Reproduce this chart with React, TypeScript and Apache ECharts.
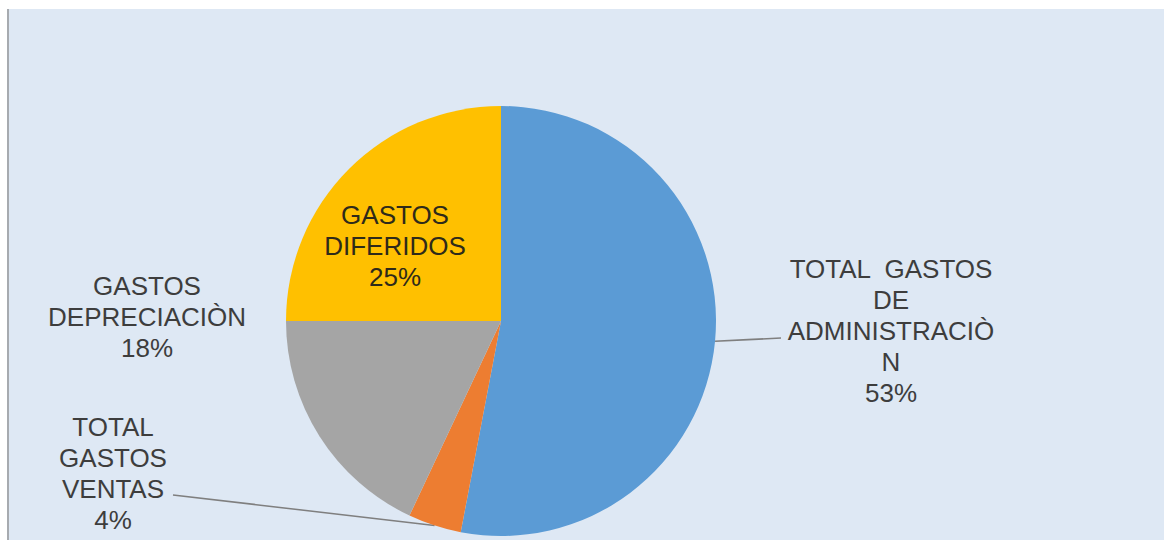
import React, { useEffect, useRef } from "react";
import * as echarts from "echarts";

// ---- data ----
const categories = [
  "TOTAL GASTOS DE ADMINISTRACIÒN",
  "TOTAL GASTOS VENTAS",
  "GASTOS DEPRECIACIÒN",
  "GASTOS DIFERIDOS",
];
const labelTexts = [
  ["TOTAL  GASTOS", "DE", "ADMINISTRACIÒ", "N"],
  ["TOTAL", "GASTOS", "VENTAS"],
  ["GASTOS", "DEPRECIACIÒN"],
  ["GASTOS", "DIFERIDOS"],
];
const values = [53, 4, 18, 25];

// ---- styling / layout ----
const colors = ["#5b9bd5", "#ed7d31", "#a5a5a5", "#ffc000"];
const labelColors = ["#3d3d3d", "#3d3d3d", "#3d3d3d", "#2e2a1a"];
const labelAnchors: [number, number][] = [
  [891, 331],
  [113, 473],
  [147, 317],
  [395, 246],
];
const lineEnds: ([number, number] | null)[] = [[781, 338], [173, 495], null, null];

export default function App() {
  const ref = useRef<HTMLDivElement>(null);

  useEffect(() => {
    if (!ref.current) return;
    const chart = echarts.init(ref.current, undefined, { renderer: "svg" });
    chart.setOption({
      animation: false,
      backgroundColor: "transparent",
      series: [
        {
          type: "pie",
          center: [501, 321],
          radius: 215,
          startAngle: 90,
          clockwise: true,
          avoidLabelOverlap: false,
          silent: true,
          itemStyle: { borderWidth: 0 },
          label: {
            show: true,
            position: "outside",
            fontFamily: "'Liberation Sans', Arial, sans-serif",
            fontSize: 26,
            lineHeight: 31,
            align: "center",
            formatter: (p: any) =>
              labelTexts[p.dataIndex].join("\n") + "\n" + p.percent + "%",
          },
          labelLine: {
            show: true,
            lineStyle: { color: "#7f7f7f", width: 1.6 },
          },
          labelLayout: (p: any) => {
            const a = labelAnchors[p.dataIndex];
            const res: any = {
              x: a[0],
              y: a[1],
              align: "center",
              verticalAlign: "middle",
            };
            const end = lineEnds[p.dataIndex];
            if (end && p.labelLinePoints) {
              const s = p.labelLinePoints[0];
              res.labelLinePoints = [
                [s[0], s[1]],
                [(s[0] + end[0]) / 2, (s[1] + end[1]) / 2],
                [end[0], end[1]],
              ];
            }
            return res;
          },
          data: categories.map((name, i) => ({
            name,
            value: values[i],
            itemStyle: { color: colors[i] },
            label: {
              color: labelColors[i],
              position: i === 3 ? "inside" : "outside",
            },
            labelLine: { show: lineEnds[i] !== null },
          })),
        },
      ],
    });
    return () => chart.dispose();
  }, []);

  return (
    <div style={{ position: "absolute", left: 0, top: 0, width: 1164, height: 540, overflow: "hidden", background: "#ffffff" }}>
      <div
        style={{
          position: "absolute",
          left: 7,
          top: 9,
          width: 1157,
          height: 531,
          boxSizing: "border-box",
          background: "#dee8f4",
          borderLeft: "2px solid #a7abb0",
        }}
      />
      <div ref={ref} style={{ position: "absolute", left: 0, top: 0, width: 1164, height: 540 }} />
    </div>
  );
}
